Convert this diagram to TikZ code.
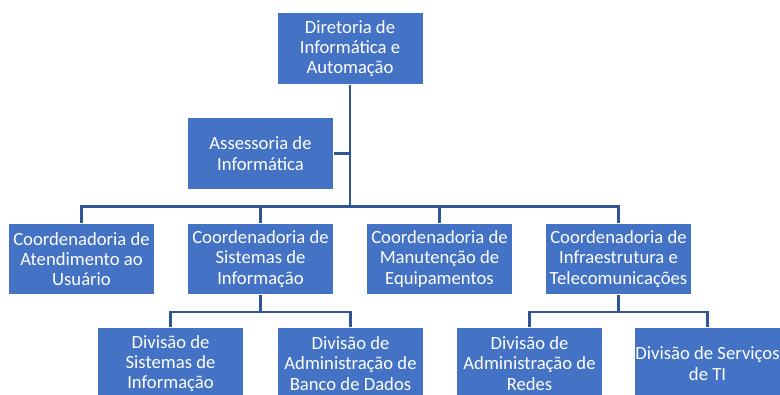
\documentclass[tikz,border=0pt]{standalone}
\usepackage{fontspec}
\setmainfont{Carlito}
\definecolor{boxblue}{HTML}{4472C4}
\definecolor{lineblue}{HTML}{2F5597}

\begin{document}
\begin{tikzpicture}[x=0.75pt, y=-0.75pt,
  unit/.style={rectangle, fill=boxblue, draw=white, line width=0.6pt, text=white,
    minimum width=109.5pt, minimum height=53.5pt, inner sep=0pt, align=center,
    font=\fontsize{14}{15.2}\selectfont},
  orgline/.style={draw=lineblue, line width=2pt}]

\useasboundingbox (0,0) rectangle (780,394);

% direction
\node[unit] (dir) at (350,48.5) {Diretoria de\\Informática e\\Automação};
\node[unit] (asse) at (260.5,153.5) {Assessoria de\\Informática};

% coordenadorias
\node[unit] (catend) at (81.5,259) {Coordenadoria de\\Atendimento ao\\Usuário};
\node[unit] (csis) at (260.5,259) {Coordenadoria de\\Sistemas de\\Informação};
\node[unit] (cman) at (439.5,259) {Coordenadoria de\\Manutenção de\\Equipamentos};
\node[unit] (cinfra) at (618.5,259) {Coordenadoria de\\Infraestrutura e\\Telecomunicações};

% divisoes
\node[unit] (dsis) at (170.5,363.5) {Divisão de\\Sistemas de\\Informação};
\node[unit] (dbanco) at (350.5,363.5) {Divisão de\\Administração de\\Banco de Dados};
\node[unit] (dredes) at (529.5,363.5) {Divisão de\\Administração de\\Redes};
\node[unit] (dserv) at (707.5,363.5) {Divisão de Serviços\\de TI};

\coordinate (bus) at (350,206.5);
\coordinate (sisbus) at (260.5,312);
\coordinate (infrabus) at (618.5,312);

\draw[orgline] (dir.south) -- (bus);
\draw[orgline] (asse.east) -- (asse.east -| dir.south);
\draw[orgline] (catend.north) |- (bus) -| (cinfra.north);
\draw[orgline] (csis.north) -- (csis.north |- bus);
\draw[orgline] (cman.north) -- (cman.north |- bus);

\draw[orgline] (csis.south) -- (sisbus);
\draw[orgline] (dsis.north) |- (sisbus) -| (dbanco.north);
\draw[orgline] (cinfra.south) -- (infrabus);
\draw[orgline] (dredes.north) |- (infrabus) -| (dserv.north);
\end{tikzpicture}
\end{document}
